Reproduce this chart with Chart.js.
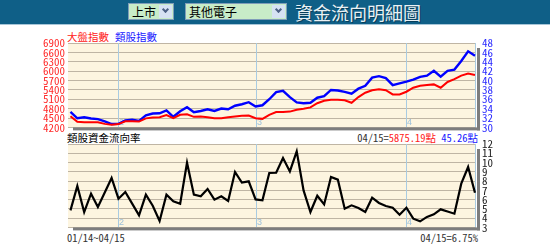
<!DOCTYPE html>
<html>
<head>
<meta charset="utf-8">
<script src="https://cdn.jsdelivr.net/npm/chart.js@4.4.1/dist/chart.umd.min.js"></script>
<style>
  html, body { margin: 0; padding: 0; background: #fff; }
  body { width: 550px; height: 252px; position: relative; overflow: hidden; }
  .abs { position: absolute; white-space: nowrap; }
  #bar { left: 0; top: 0; width: 550px; height: 24px; background: #0f5f87; border-bottom: 1px solid #a7c6d8; }
  .sel { top: 3px; height: 15px; border: 1px solid #7f9db9; background: #c8ecc8; font: 12px "Noto Sans CJK TC", sans-serif; line-height: 15px; color: #000; }
  .sel .txt { position: absolute; left: 3px; top: 0; }
  .sel .btn { position: absolute; right: 1px; top: 1px; width: 13px; height: 13px; background: #d6e2f3; border: 0; }
  .sel .btn i { position: absolute; left: 4px; top: 2px; width: 3px; height: 3px; border-right: 2px solid #4d6185; border-bottom: 2px solid #4d6185; transform: rotate(45deg); }
  #title { left: 295px; top: 1px; font: 18px "Noto Sans CJK TC", sans-serif; line-height: 22px; color: #e9f1f5; text-shadow: 1px 1px 0 #073e5a; }
  .cjk { font: 10.5px "Noto Sans CJK TC", sans-serif; line-height: 12px; }
  .mono { font: 10.5px "Noto Sans Mono CJK TC", "Noto Sans CJK TC", "Liberation Mono", monospace; line-height: 12px; color: #333; }
  canvas { position: absolute; left: 0; }
</style>
</head>
<body>
<div id="bar" class="abs"></div>
<div class="abs sel" style="left:128px; width:44px;"><span class="txt">上市</span><span class="btn"><i></i></span></div>
<div class="abs sel" style="left:185px; width:100px;"><span class="txt">其他電子</span><span class="btn"><i></i></span></div>
<div id="title" class="abs">資金流向明細圖</div>

<div class="abs cjk" style="left:67px; top:31px; color:#ff2020;">大盤指數</div>
<div class="abs cjk" style="left:115px; top:31px; color:#2020ff;">類股指數</div>
<div class="abs cjk" style="left:67px; top:132px; color:#000;">類股資金流向率</div>
<div class="abs mono" style="right:72px; top:132px;">04/15=<span style="color:#ff2020">5875.19點</span> <span style="color:#2020ff">45.26點</span></div>
<div class="abs mono" style="left:67px; top:232px;">01/14~04/15</div>
<div class="abs mono" style="right:72px; top:232px;">04/15=6.75%</div>

<canvas id="upperChart" width="550" height="110" style="top:30px;"></canvas>
<canvas id="lowerChart" width="550" height="110" style="top:130px;"></canvas>

<script>
// 01/14 ~ 04/15, one value per trading day
const taiex = [4560, 4377, 4361, 4367, 4367, 4313, 4284, 4306, 4393, 4393,
    4387, 4489, 4515, 4528, 4596, 4496, 4602, 4618, 4538, 4547,
    4528, 4496, 4496, 4522, 4547, 4576, 4580, 4496, 4473, 4602,
    4689, 4689, 4705, 4763, 4795, 4840, 4972, 5052, 5084, 5084,
    5068, 4988, 5171, 5309, 5389, 5422, 5389, 5254, 5251, 5341,
    5470, 5534, 5557, 5576, 5470, 5653, 5743, 5855, 5920, 5875.19];
const sectorIndex = [33.29, 31.94, 32.15, 31.90, 31.77, 31.30, 30.72, 30.76, 31.47, 31.66,
    31.40, 32.58, 32.97, 33.01, 33.61, 32.26, 33.44, 34.30, 33.22, 33.50,
    33.87, 33.50, 34.02, 33.87, 34.62, 34.94, 35.37, 34.45, 34.72, 36.01,
    37.51, 37.79, 36.44, 35.32, 35.15, 35.26, 36.33, 36.65, 37.98, 37.87,
    37.59, 37.19, 38.26, 38.86, 40.61, 40.93, 40.51, 39.01, 39.39, 39.76,
    40.18, 40.78, 41.04, 42.07, 40.83, 42.07, 42.33, 44.15, 46.22, 45.26];
const flowRate = [4.84, 7.47, 4.66, 6.64, 5.20, 6.77, 8.33, 6.10, 6.82, 5.56,
    4.30, 6.53, 5.34, 3.69, 6.53, 5.81, 5.56, 9.98, 6.53, 6.35,
    7.15, 5.99, 6.35, 5.85, 8.98, 7.83, 7.97, 6.02, 5.92, 8.87,
    8.90, 10.49, 9.04, 11.20, 6.99, 4.66, 6.42, 5.48, 8.44, 8.15,
    5.02, 5.38, 5.10, 4.66, 6.21, 5.64, 5.31, 5.13, 4.37, 5.13,
    3.94, 3.65, 4.13, 4.41, 4.95, 4.72, 4.48, 7.72, 9.52, 6.75];

// index of the first trading day of each month, and its label
const monthStarts = [7, 27, 49];
const monthLabels = ['2', '3', '4'];

const tickFont = { family: '"Noto Sans Mono CJK TC", "Liberation Sans Narrow", sans-serif', size: 11 };
const gridColor = '#bfb5a4';
const plain = v => String(v);

function toPoints(arr) {
    return arr.map((v, i) => ({ x: i, y: v }));
}

const plotDeco = {
    id: 'plotDeco',
    beforeDraw(chart) {
        const a = chart.chartArea;
        const ctx = chart.ctx;
        ctx.save();
        ctx.fillStyle = '#fdf5e0';
        ctx.fillRect(a.left, a.top, a.right - a.left, a.bottom - a.top);
        ctx.restore();
    },
    beforeDatasetsDraw(chart) {
        const a = chart.chartArea;
        const ctx = chart.ctx;
        const x = chart.scales.x;
        ctx.save();
        ctx.strokeStyle = '#a9cbe1';
        ctx.lineWidth = 1;
        const marks = monthStarts.concat([flowRate.length - 1]);
        marks.forEach(m => {
            const px = Math.round(x.getPixelForValue(m)) + 0.5;
            ctx.beginPath();
            ctx.moveTo(px, a.top);
            ctx.lineTo(px, a.bottom);
            ctx.stroke();
        });
        ctx.fillStyle = '#9cc0da';
        ctx.font = '9px "Liberation Sans", sans-serif';
        ctx.textBaseline = 'middle';
        monthStarts.forEach((m, i) => {
            ctx.fillText(monthLabels[i], Math.round(x.getPixelForValue(m)) + 1, a.bottom - 5);
        });
        ctx.restore();
    },
    afterDraw(chart) {
        const a = chart.chartArea;
        const ctx = chart.ctx;
        ctx.save();
        ctx.fillStyle = '#7d7d7d';
        ctx.fillRect(a.right + 1, a.top + 5, 3, a.bottom - a.top - 2);
        ctx.fillRect(a.left + 5, a.bottom, a.right - a.left - 1, 3);
        ctx.restore();
    }
};

const xAxis = { type: 'linear', min: -0.36, max: 59.15, display: false };

new Chart(document.getElementById('upperChart'), {
    type: 'line',
    data: {
        datasets: [{
            label: '大盤指數',
            data: toPoints(taiex),
            yAxisID: 'yL',
            borderColor: '#ff0000',
            borderWidth: 2,
            pointRadius: 0,
            tension: 0
        }, {
            label: '類股指數',
            data: toPoints(sectorIndex),
            yAxisID: 'yR',
            borderColor: '#0000ff',
            borderWidth: 2.4,
            pointRadius: 0,
            tension: 0
        }]
    },
    options: {
        responsive: false,
        animation: false,
        events: [],
        layout: { padding: { top: 13, bottom: 12.5, left: 0, right: 0 } },
        plugins: { legend: { display: false }, tooltip: { enabled: false } },
        scales: {
            x: xAxis,
            yL: {
                position: 'left',
                min: 4200, max: 6900,
                afterFit: s => { s.width = 68; },
                ticks: { stepSize: 300, autoSkip: false, padding: 3, color: '#ff2a2a', font: tickFont, callback: plain },
                grid: { color: gridColor, drawTicks: false },
                border: { display: false }
            },
            yR: {
                position: 'right',
                min: 30, max: 48,
                afterFit: s => { s.width = 74; },
                ticks: { stepSize: 2, autoSkip: false, padding: 6, color: '#2a2aff', font: tickFont, callback: plain },
                grid: { display: false, drawTicks: false },
                border: { display: false }
            }
        }
    },
    plugins: [plotDeco]
});

new Chart(document.getElementById('lowerChart'), {
    type: 'line',
    data: {
        datasets: [{
            label: '類股資金流向率',
            data: toPoints(flowRate),
            yAxisID: 'y',
            borderColor: '#000000',
            borderWidth: 2.2,
            pointRadius: 0,
            tension: 0
        }]
    },
    options: {
        responsive: false,
        animation: false,
        events: [],
        layout: { padding: { top: 14, bottom: 12.5, left: 68, right: 0 } },
        plugins: { legend: { display: false }, tooltip: { enabled: false } },
        scales: {
            x: xAxis,
            y: {
                position: 'right',
                min: 3, max: 12,
                afterFit: s => { s.width = 74; },
                ticks: { stepSize: 1, autoSkip: false, padding: 6, color: '#222', font: tickFont, callback: plain },
                grid: { color: gridColor, drawTicks: false },
                border: { display: false }
            }
        }
    },
    plugins: [plotDeco]
});
</script>
</body>
</html>
